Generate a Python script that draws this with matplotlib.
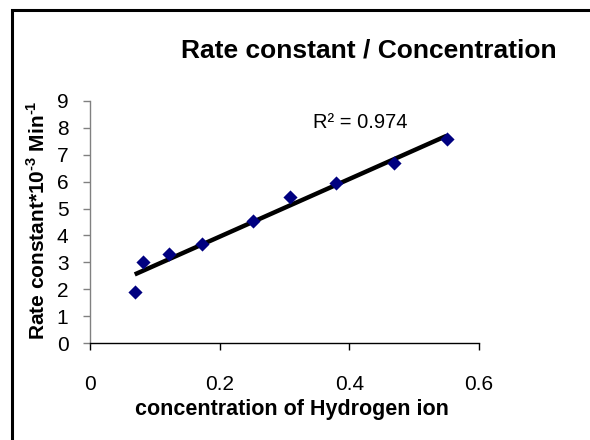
import numpy as np
import matplotlib
matplotlib.use("Agg")
import matplotlib.pyplot as plt
from matplotlib.patches import Rectangle

plt.rcParams['font.family'] = ['Liberation Sans', 'DejaVu Sans']
plt.rcParams['mathtext.fontset'] = 'custom'
plt.rcParams['mathtext.rm'] = 'Liberation Sans'
plt.rcParams['mathtext.bf'] = 'Liberation Sans:bold'

# Data
conc = [0.069, 0.082, 0.122, 0.172, 0.251, 0.308, 0.379, 0.469, 0.550]
rate = [1.90, 3.02, 3.30, 3.67, 4.52, 5.42, 5.95, 6.68, 7.58]
x_ticks = [0, 0.2, 0.4, 0.6]
x_tick_labels = ['0', '0.2', '0.4', '0.6']
y_ticks = list(range(0, 10))
title = 'Rate constant / Concentration'
xlabel = 'concentration of Hydrogen ion'
ylabel = 'Rate constant*10$^{\\mathbf{\u20103}}$ Min$^{\\mathbf{\u20101}}$'
r2_text = 'R² = 0.974'

W, H = 590, 440
fig = plt.figure(figsize=(W / 100, H / 100), dpi=100)

def fx(px):
    return px / W

def fy(py):
    return 1 - py / H

ax_left, ax_right, ax_top, ax_bottom = 90, 479, 100.7, 343.3
ax = fig.add_axes([fx(ax_left), fy(ax_bottom), (ax_right - ax_left) / W, (ax_bottom - ax_top) / H])
ax.set_facecolor('none')

ax.scatter(conc, rate, marker='D', s=52, color='#000080', zorder=3, linewidths=0)
coef = np.polyfit(conc, rate, 1)
xs = np.array([min(conc), max(conc)])
ax.plot(xs, np.polyval(coef, xs), color='black', lw=3.2, zorder=2, solid_capstyle='butt')

ax.set_xlim(0, 0.6)
ax.set_ylim(0, 9)
ax.set_xticks(x_ticks)
ax.set_xticklabels(x_tick_labels)
ax.set_yticks(y_ticks)

for s in ['top', 'right']:
    ax.spines[s].set_visible(False)
ax.spines['left'].set_color('#808080')
ax.spines['left'].set_linewidth(1.0)
ax.spines['bottom'].set_color('black')
ax.spines['bottom'].set_linewidth(1.0)
ax.tick_params(axis='y', direction='out', length=5, width=1, color='#808080', labelsize=15, pad=10.5)
ax.tick_params(axis='x', direction='out', length=5, width=1, color='black', labelsize=15, pad=17.5)

fig.text(fx(368.5), fy(57), title, ha='center', va='baseline', fontsize=19, fontweight='bold')
fig.text(fx(291.5), fy(415), xlabel, ha='center', va='baseline', fontsize=15.5, fontweight='bold')
fig.text(fx(37.5), fy(220), ylabel, ha='center', va='center', rotation=90, fontsize=15, fontweight='bold')
fig.text(fx(313), fy(128), r2_text, ha='left', va='baseline', fontsize=14.5)

border = Rectangle((fx(12), fy(470)), fx(620), 460 / H, transform=fig.transFigure,
                   fill=False, edgecolor='black', linewidth=2.2, clip_on=False)
fig.add_artist(border)

fig.savefig('out.png', dpi=100)
